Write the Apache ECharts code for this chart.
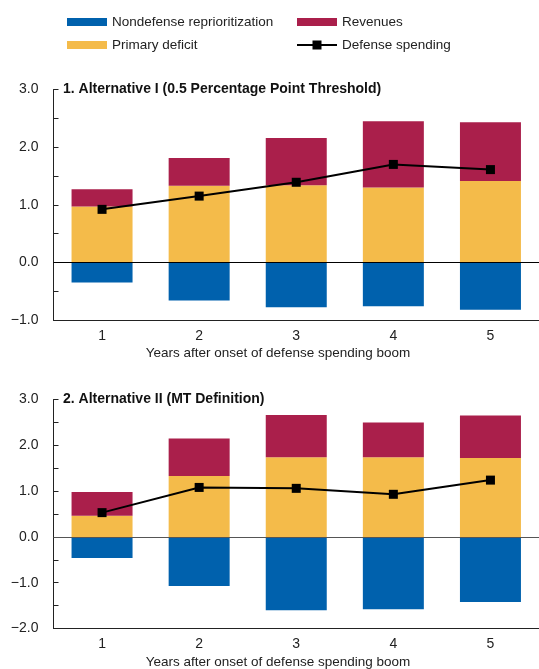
<!DOCTYPE html>
<html>
<head>
<meta charset="utf-8">
<script src="https://cdn.jsdelivr.net/npm/echarts@6/dist/echarts.min.js"></script>
<style>
  html, body { margin: 0; padding: 0; background: #fff; }
  #chart { width: 539px; height: 669px; }
</style>
</head>
<body>
<div id="chart"></div>
<script>
// Years after onset of a defense spending boom
const years = ['1', '2', '3', '4', '5'];

// Panel 1: Alternative I (0.5 percentage point threshold)
const p1Nondefense = [-0.35, -0.66, -0.78, -0.76, -0.82];
const p1Primary    = [0.97, 1.33, 1.34, 1.30, 1.41];
const p1Revenues   = [0.30, 0.48, 0.82, 1.15, 1.02];
const p1Defense    = [0.92, 1.15, 1.39, 1.70, 1.61];

// Panel 2: Alternative II (MT definition)
const p2Nondefense = [-0.46, -1.07, -1.60, -1.58, -1.42];
const p2Primary    = [0.46, 1.33, 1.74, 1.74, 1.72];
const p2Revenues   = [0.52, 0.82, 0.92, 0.76, 0.93];
const p2Defense    = [0.53, 1.08, 1.06, 0.93, 1.24];

// Value axis ranges
const p1Range = [-1, 3];
const p2Range = [-2, 3];

const panelTitles = [
  '1. Alternative I (0.5 Percentage Point Threshold)',
  '2. Alternative II (MT Definition)'
];
const xTitle = 'Years after onset of defense spending boom';

const FONT = '"Liberation Sans", Arial, sans-serif';
const FS = 13.5;
const C_BLUE = '#0061ad';
const C_YELLOW = '#f4bb4a';
const C_RED = '#aa1f4b';
const TXT = '#222';

// Legend icon for the line: a stroke with a square marker in the middle
const LINE_ICON = 'path://M0,3.5H15.5V0H24.5V3.5H40V5.5H24.5V9H15.5V5.5H0Z';

const chart = echarts.init(document.getElementById('chart'));

function yAxisFor(idx, range) {
  return {
    type: 'value', gridIndex: idx, min: range[0], max: range[1], interval: 0.5,
    axisLine: { show: true, lineStyle: { color: '#222', width: 1 } },
    axisTick: { show: true, inside: true, length: 5, lineStyle: { color: '#222' } },
    splitLine: { show: false },
    axisLabel: {
      margin: 15, fontFamily: FONT, fontSize: 14, color: TXT,
      formatter: v => (Math.abs(v % 1) < 1e-9 ? v.toFixed(1).replace('-', '\u2212') : '')
    }
  };
}
function xAxisFor(idx) {
  return {
    type: 'category', gridIndex: idx, data: years,
    axisLine: { show: true, onZero: false, lineStyle: { color: '#222', width: 1 } },
    axisTick: { show: false },
    axisLabel: { margin: 9, fontFamily: FONT, fontSize: 14, color: TXT }
  };
}
function barSeries(name, data, color, idx, zeroLine) {
  const s = {
    name, type: 'bar', stack: 'p' + idx, data,
    xAxisIndex: idx, yAxisIndex: idx,
    barWidth: 61, itemStyle: { color },
    emphasis: { disabled: true }
  };
  if (zeroLine) {
    s.markLine = {
      silent: true, symbol: 'none', label: { show: false },
      lineStyle: { color: zeroLine, width: 1, type: 'solid' },
      data: [{ yAxis: 0 }]
    };
  }
  return s;
}
function lineSeries(data, idx) {
  return {
    name: 'Defense spending', type: 'line', data,
    xAxisIndex: idx, yAxisIndex: idx, z: 5,
    symbol: 'rect', symbolSize: 9,
    lineStyle: { color: '#000', width: 2 },
    itemStyle: { color: '#000' },
    emphasis: { disabled: true }
  };
}
function legendFor(name, left, top, icon, h) {
  return {
    data: [{ name, icon }], left, top,
    itemWidth: 40, itemHeight: h || 8, itemGap: 5,
    textStyle: { fontFamily: FONT, fontSize: FS, color: TXT },
    selectedMode: false
  };
}

const option = {
  animation: false,
  backgroundColor: '#fff',
  legend: [
    legendFor('Nondefense reprioritization', 62, 10, 'rect'),
    legendFor('Revenues', 292, 10, 'rect'),
    legendFor('Primary deficit', 62, 33, 'rect'),
    legendFor('Defense spending', 292, 33, LINE_ICON, 9)
  ],
  grid: [
    { left: 53.5, right: -4, top: 89.5, height: 230.5, containLabel: false },
    { left: 53.5, right: -4, top: 399.5, height: 229, containLabel: false }
  ],
  xAxis: [xAxisFor(0), xAxisFor(1)],
  yAxis: [yAxisFor(0, p1Range), yAxisFor(1, p2Range)],
  series: [
    barSeries('Nondefense reprioritization', p1Nondefense, C_BLUE, 0, '#000'),
    barSeries('Primary deficit', p1Primary, C_YELLOW, 0),
    barSeries('Revenues', p1Revenues, C_RED, 0),
    lineSeries(p1Defense, 0),
    barSeries('Nondefense reprioritization', p2Nondefense, C_BLUE, 1, '#555'),
    barSeries('Primary deficit', p2Primary, C_YELLOW, 1),
    barSeries('Revenues', p2Revenues, C_RED, 1),
    lineSeries(p2Defense, 1)
  ],
  graphic: [
    { type: 'text', x: 63, y: 89, style: { text: panelTitles[0], font: 'bold 14px ' + FONT, fill: '#111', verticalAlign: 'middle' } },
    { type: 'text', x: 63, y: 399, style: { text: panelTitles[1], font: 'bold 14px ' + FONT, fill: '#111', verticalAlign: 'middle' } },
    { type: 'text', x: 278, y: 353, style: { text: xTitle, font: FS + 'px ' + FONT, fill: TXT, align: 'center', verticalAlign: 'middle' } },
    { type: 'text', x: 278, y: 662, style: { text: xTitle, font: FS + 'px ' + FONT, fill: TXT, align: 'center', verticalAlign: 'middle' } }
  ]
};
chart.setOption(option);
</script>
</body>
</html>
